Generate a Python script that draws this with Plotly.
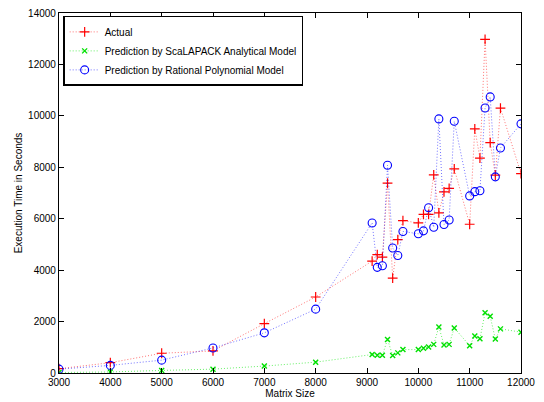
import plotly.graph_objects as go

matrix_size = [3000, 4000, 5000, 6000, 7000, 8000, 9100, 9200, 9300, 9400, 9500, 9600, 9700,
               10000, 10100, 10200, 10300, 10400, 10500, 10600, 10700,
               11000, 11100, 11200, 11300, 11400, 11500, 11600, 12000]

actual = [168, 400, 768, 860, 1919, 2956, 4352, 4607, 4505, 7386, 3686, 5183, 5926,
          5836, 6169, 6169, 7704, 6230, 7040, 7179, 7935,
          5785, 9497, 8357, 12975, 8959, 7693, 10303, 7755]

scalapack = [20, 40, 100, 150, 270, 422, 718, 691, 691, 1305, 679, 783, 910,
             910, 960, 1013, 1113, 1793, 1090, 1113, 1754,
             1063, 1436, 1332, 2342, 2203, 1320, 1716, 1589]

rational = [150, 296, 500, 975, 1562, 2484, 5836, 4108, 4173, 8077, 4864, 4568, 5505,
            5413, 5528, 6426, 5670, 9881, 5773, 5950, 9789,
            6887, 7052, 7090, 10303, 10737, 7628, 8752, 9689]

x_ticks = [3000, 4000, 5000, 6000, 7000, 8000, 9000, 10000, 11000, 12000]
y_ticks = [0, 2000, 4000, 6000, 8000, 10000, 12000, 14000]

font = "Liberation Sans, Arial, Helvetica, sans-serif"

fig = go.Figure()
fig.add_trace(go.Scatter(
    x=matrix_size, y=actual, mode="lines+markers", name="Actual",
    line=dict(color="rgba(255,0,0,0.55)", width=1, dash="1px,2px"),
    marker=dict(symbol="cross-thin", size=7, line=dict(color="#ff0000", width=1.2), color="#ff0000"),
))
fig.add_trace(go.Scatter(
    x=matrix_size, y=scalapack, mode="lines+markers", name="Prediction by ScaLAPACK Analytical Model",
    line=dict(color="rgba(0,230,0,0.6)", width=1, dash="1px,2px"),
    marker=dict(symbol="x-thin", size=5, line=dict(color="#00e000", width=1.4), color="#00e000"),
))
fig.add_trace(go.Scatter(
    x=matrix_size, y=rational, mode="lines+markers", name="Prediction by Rational Polynomial Model",
    line=dict(color="rgba(0,0,255,0.55)", width=1, dash="1px,2px"),
    marker=dict(symbol="circle-open", size=8, line=dict(color="#0000ff", width=1.1), color="#0000ff"),
))

axis_common = dict(
    showline=True, mirror="ticks", linecolor="black", linewidth=1.2,
    ticks="inside", ticklen=5, tickcolor="black", showgrid=False, zeroline=False,
    tickfont=dict(family=font, size=10, color="black"),
)

fig.update_layout(
    width=544, height=402,
    margin=dict(l=59, r=23, t=7, b=29),
    paper_bgcolor="white", plot_bgcolor="white",
    font=dict(family=font, size=10, color="black"),
    showlegend=True,
    legend=dict(
        x=0.009, y=0.992, xanchor="left", yanchor="top",
        bgcolor="white", bordercolor="black", borderwidth=1.5,
        font=dict(family=font, size=10, color="black"),
        tracegroupgap=0, itemwidth=30, entrywidth=250, entrywidthmode="pixels",
    ),
    xaxis=dict(range=[3000, 12000], tickvals=x_ticks, ticktext=[str(v) for v in x_ticks],
               title=dict(text="Matrix Size", font=dict(family=font, size=10), standoff=0), **axis_common),
    yaxis=dict(range=[0, 14000], tickvals=y_ticks, ticktext=[str(v) for v in y_ticks],
               title=dict(text="Execution Time in Seconds", font=dict(family=font, size=10), standoff=3), **axis_common),
)

fig.write_html("out.html", config={"displayModeBar": False},
               post_script="document.body.style.margin='0';document.body.style.overflow='hidden';")
